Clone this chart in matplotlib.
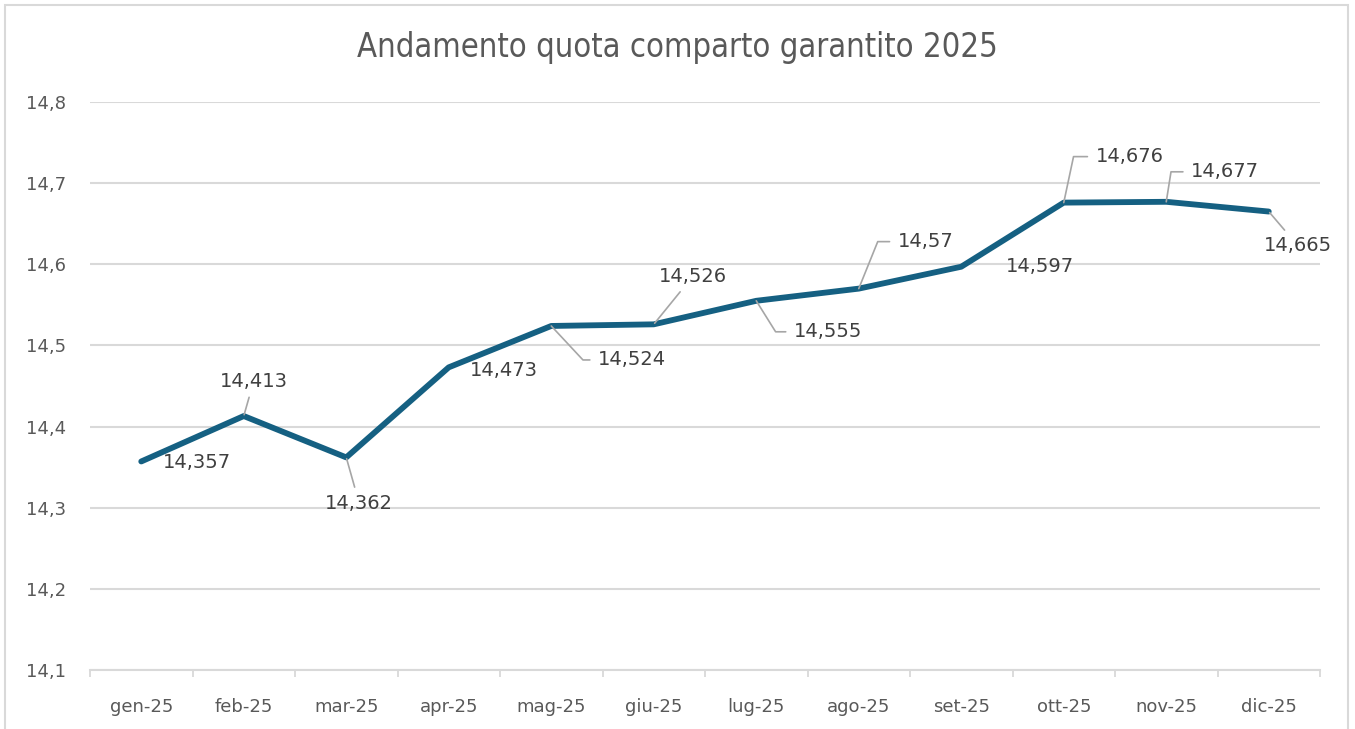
import matplotlib
matplotlib.use("Agg")
import matplotlib.pyplot as plt
from matplotlib.patches import Rectangle
from matplotlib.ticker import FuncFormatter, FixedLocator

# dati
mesi = ['gen-25', 'feb-25', 'mar-25', 'apr-25', 'mag-25', 'giu-25',
        'lug-25', 'ago-25', 'set-25', 'ott-25', 'nov-25', 'dic-25']
quota = [14.357, 14.413, 14.362, 14.473, 14.524, 14.526,
         14.555, 14.57, 14.597, 14.676, 14.677, 14.665]
y_ticks = [14.1, 14.2, 14.3, 14.4, 14.5, 14.6, 14.7, 14.8]

# posizione etichette (offset in pixel) e tipo di linea guida
offset_etichette = [(56, -1), (10, 35), (13, -46), (55, -3), (81, -34), (39, 48),
                    (72, -31), (67, 47), (79, 0), (66, 46), (59, 30), (29, -34)]
guida = [None, 'dritta', 'dritta', None, -47, 'dritta',
         -58, 68, None, 78, 81, 'dritta']

blu = '#156082'
grigio_testo = '#595959'
grigio_griglia = '#D9D9D9'
grigio_guida = '#A6A6A6'


def formato_it(v):
    return f"{v:g}".replace('.', ',')


fig = plt.figure(figsize=(13.55, 7.29), dpi=100)
ax = fig.add_axes([90 / 1355, 1 - 670 / 729, 1230 / 1355, 568 / 729])

x = list(range(len(mesi)))
ax.plot(x, quota, color=blu, lw=4.2, solid_capstyle='round', solid_joinstyle='round', zorder=3)

# etichette dati
for i, (v, off, g) in enumerate(zip(quota, offset_etichette, guida)):
    props = None
    if g == 'dritta':
        props = dict(arrowstyle='-', color=grigio_guida, lw=1.2, shrinkA=3, shrinkB=1)
    elif g is not None:
        props = dict(arrowstyle='-', color=grigio_guida, lw=1.2, shrinkA=4, shrinkB=0,
                     relpos=(0, 0.5),
                     connectionstyle=f"angle,angleA=0,angleB={g},rad=0")
    ax.annotate(formato_it(v), xy=(i, v), xytext=off, textcoords='offset pixels',
                ha='center', va='center', fontsize=14, color='#404040',
                arrowprops=props, zorder=4)

# assi
ax.set_xlim(-0.5, len(mesi) - 0.5)
ax.set_ylim(14.1, 14.8)
ax.set_yticks(y_ticks)
ax.yaxis.set_major_formatter(FuncFormatter(lambda v, p: formato_it(round(v, 1))))
ax.set_xticks(x)
ax.set_xticklabels(mesi)
ax.xaxis.set_minor_locator(FixedLocator([i - 0.5 for i in range(len(mesi) + 1)]))
ax.tick_params(axis='x', which='major', length=0, pad=20, labelsize=13, labelcolor=grigio_testo)
ax.tick_params(axis='x', which='minor', length=5, width=1.3, color=grigio_griglia)
ax.tick_params(axis='y', length=0, pad=17, labelsize=13, labelcolor=grigio_testo)

ax.grid(axis='y', color=grigio_griglia, lw=1.5)
ax.set_axisbelow(True)
for s in ['top', 'right', 'left']:
    ax.spines[s].set_visible(False)
ax.spines['bottom'].set_color(grigio_griglia)
ax.spines['bottom'].set_linewidth(1.5)

fig.text(677 / 1355, 1 - 47 / 729, 'Andamento quota comparto garantito 2025',
         ha='center', va='center', fontsize=23.5, color=grigio_testo,
         family='DejaVu Sans', stretch='condensed')

# cornice del grafico
fig.add_artist(Rectangle((5 / 1355, -0.02), 1343 / 1355, 1.02 - 5 / 729,
                         transform=fig.transFigure, fill=False,
                         edgecolor=grigio_griglia, lw=1.5))

fig.savefig('out.png', dpi=100)
